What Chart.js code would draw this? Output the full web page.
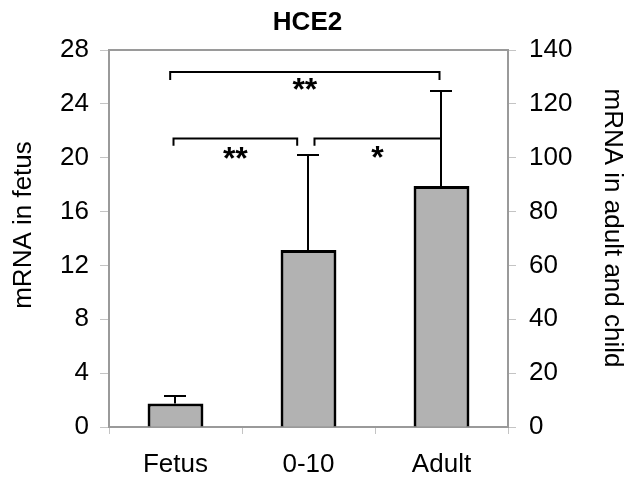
<!DOCTYPE html>
<html>
<head>
<meta charset="utf-8">
<script src="https://cdn.jsdelivr.net/npm/chart.js@4.4.1/dist/chart.umd.min.js"></script>
<style>
    html, body { margin: 0; padding: 0; background: #ffffff; }
    #wrap { width: 628px; height: 480px; position: relative; }
</style>
</head>
<body>
<div id="wrap"><canvas id="hceChart" width="628" height="480"></canvas></div>
<script>
// Data
const categories = ["Fetus", "0-10", "Adult"];
const fetusValues = [1.75, null, null];          // left axis
const fetusErrors = [0.55, null, null];
const childAdultValues = [null, 65.7, 89.5];     // right axis
const childAdultErrors = [null, 35.3, 35.3];
const leftTicks = [0, 4, 8, 12, 16, 20, 24, 28];
const rightTicks = [0, 20, 40, 60, 80, 100, 120, 140];

// Significance brackets (category index, level on the left axis)
const brackets = [
    { from: 0, to: 2, fromShift: -0.04, toShift: -0.015, level: 26.37, drop: 0.6, dropFrom: true, dropTo: true, mark: "**", markLevel: 24.3 },
    { from: 0, to: 1, fromShift: -0.015, toShift: -0.085, level: 21.43, drop: 0.55, dropFrom: true, dropTo: true, mark: "**", markLevel: 19.15 },
    { from: 1, to: 2, fromShift: 0.045, toShift: -0.008, level: 21.43, drop: 0.55, dropFrom: true, dropTo: false, mark: "*", markLevel: 19.2 }
];

const FONT = "'Liberation Sans', Arial, sans-serif";
const frameGray = "#9a9a9a";
const tickGray = "#c4c4c4";

// Frame, error bars, brackets, title and axis titles
const extrasPlugin = {
    id: "extras",
    beforeDatasetsDraw(chart) {
        const ctx = chart.ctx;
        const a = chart.chartArea;
        ctx.save();
        ctx.strokeStyle = frameGray;
        ctx.lineWidth = 2;
        ctx.strokeRect(a.left, a.top, a.right - a.left, a.bottom - a.top);
        ctx.restore();
    },
    afterDatasetsDraw(chart) {
        const ctx = chart.ctx;
        const yL = chart.scales.y;
        const yR = chart.scales.y1;
        const xs = chart.scales.x;
        const catW = xs.getPixelForValue(1) - xs.getPixelForValue(0);

        ctx.save();
        ctx.strokeStyle = "#000";
        ctx.lineWidth = 2;
        ctx.lineCap = "butt";

        // error bars (upper only)
        const drawErr = (vals, errs, scale) => {
            vals.forEach((v, i) => {
                if (v === null) return;
                const x = Math.round(xs.getPixelForValue(i)) - 1;
                const y0 = scale.getPixelForValue(v);
                const y1 = scale.getPixelForValue(v + errs[i]);
                ctx.beginPath();
                ctx.moveTo(x, y0);
                ctx.lineTo(x, y1);
                ctx.moveTo(x - 11, y1);
                ctx.lineTo(x + 11, y1);
                ctx.stroke();
            });
        };
        drawErr(fetusValues, fetusErrors, yL);
        drawErr(childAdultValues, childAdultErrors, yR);

        // brackets
        brackets.forEach(b => {
            const x1 = xs.getPixelForValue(b.from) + b.fromShift * catW;
            const x2 = xs.getPixelForValue(b.to) + b.toShift * catW;
            const y = yL.getPixelForValue(b.level);
            const yd = yL.getPixelForValue(b.level - b.drop);
            ctx.beginPath();
            if (b.dropFrom) { ctx.moveTo(x1, yd); ctx.lineTo(x1, y); } else { ctx.moveTo(x1, y); }
            ctx.lineTo(x2, y);
            if (b.dropTo) ctx.lineTo(x2, yd);
            ctx.stroke();

            ctx.fillStyle = "#000";
            ctx.font = "bold 32px " + FONT;
            ctx.textAlign = "center";
            ctx.textBaseline = "alphabetic";
            ctx.fillText(b.mark, (x1 + x2) / 2, yL.getPixelForValue(b.markLevel));
        });
        ctx.restore();
    },
    afterDraw(chart) {
        const ctx = chart.ctx;
        const a = chart.chartArea;

        ctx.save();
        ctx.fillStyle = "#000";
        ctx.textAlign = "center";
        ctx.textBaseline = "middle";
        ctx.font = "bold 26px " + FONT;
        ctx.fillText("HCE2", (a.left + a.right) / 2 - 1, 23);
        ctx.restore();

        ctx.save();
        ctx.fillStyle = "#000";
        ctx.font = "26px " + FONT;
        ctx.textAlign = "center";
        ctx.textBaseline = "middle";
        ctx.translate(24, 225);
        ctx.rotate(-Math.PI / 2);
        ctx.fillText("mRNA in fetus", 0, 0);
        ctx.restore();

        ctx.save();
        ctx.fillStyle = "#000";
        ctx.font = "26px " + FONT;
        ctx.textAlign = "center";
        ctx.textBaseline = "middle";
        ctx.translate(612, 228);
        ctx.rotate(Math.PI / 2);
        ctx.fillText("mRNA in adult and child", 0, 0);
        ctx.restore();
    }
};

document.addEventListener("DOMContentLoaded", function () {
    const ctx = document.getElementById("hceChart").getContext("2d");

    new Chart(ctx, {
        type: "bar",
        data: {
            labels: categories,
            datasets: [
                {
                    label: "Fetus",
                    data: fetusValues,
                    yAxisID: "y",
                    backgroundColor: "#b2b2b2",
                    borderColor: "#000",
                    borderWidth: 3,
                    categoryPercentage: 1,
                    barPercentage: 0.42,
                    grouped: false
                },
                {
                    label: "Adult and child",
                    data: childAdultValues,
                    yAxisID: "y1",
                    backgroundColor: "#b2b2b2",
                    borderColor: "#000",
                    borderWidth: 3,
                    categoryPercentage: 1,
                    barPercentage: 0.42,
                    grouped: false
                }
            ]
        },
        options: {
            responsive: false,
            animation: false,
            layout: { padding: { top: 50 } },
            plugins: {
                legend: { display: false },
                tooltip: { enabled: false },
                title: { display: false }
            },
            scales: {
                x: {
                    grid: {
                        offset: true,
                        drawOnChartArea: false,
                        tickLength: 7,
                        color: tickGray,
                        lineWidth: 1
                    },
                    border: { display: false },
                    ticks: {
                        color: "#000",
                        font: { family: FONT, size: 26 },
                        padding: 15,
                        maxRotation: 0
                    },
                    afterFit: s => { s.height = 53; }
                },
                y: {
                    position: "left",
                    min: 0,
                    max: 28,
                    afterBuildTicks: s => { s.ticks = leftTicks.map(v => ({ value: v })); },
                    grid: { drawOnChartArea: false, tickLength: 9, color: tickGray, lineWidth: 1 },
                    border: { display: false },
                    ticks: {
                        color: "#000",
                        font: { family: FONT, size: 26 },
                        padding: 11
                    },
                    afterFit: s => { s.width = 109; }
                },
                y1: {
                    position: "right",
                    min: 0,
                    max: 140,
                    afterBuildTicks: s => { s.ticks = rightTicks.map(v => ({ value: v })); },
                    grid: { drawOnChartArea: false, tickLength: 8, color: tickGray, lineWidth: 1 },
                    border: { display: false },
                    ticks: {
                        color: "#000",
                        font: { family: FONT, size: 26 },
                        padding: 13
                    },
                    afterFit: s => { s.width = 120; }
                }
            }
        },
        plugins: [extrasPlugin]
    });
});
</script>
</body>
</html>
